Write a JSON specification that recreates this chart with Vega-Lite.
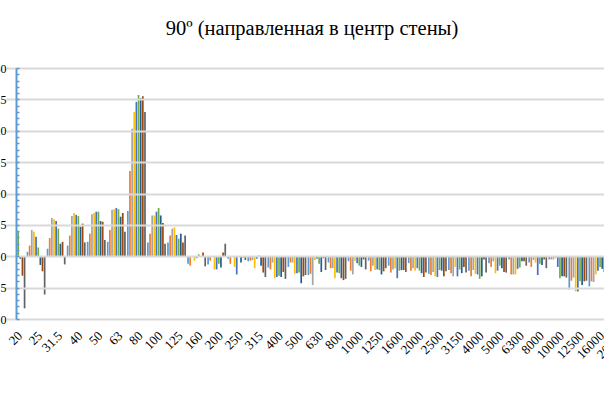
{
  "$schema": "https://vega.github.io/schema/vega-lite/v6.json",
  "autosize": {"type": "none"},
  "padding": {"left": 16, "top": 68, "right": 0, "bottom": 84},
  "width": 602,
  "height": 251,
  "background": "white",
  "title": {
    "text": "90º (направленная в центр стены)",
    "font": "Liberation Serif",
    "fontSize": 20.5,
    "fontWeight": "normal",
    "color": "#000000",
    "anchor": "middle",
    "dx": -5,
    "offset": 7,
    "baseline": "alphabetic"
  },
  "data": {
    "values": [
      {"f": "20", "s": 1, "v": 0}, {"f": "20", "s": 2, "v": 0}, {"f": "20", "s": 3, "v": 0}, {"f": "20", "s": 4, "v": 0}, {"f": "20", "s": 5, "v": 0}, {"f": "20", "s": 6, "v": 4.0}, {"f": "20", "s": 7, "v": -0.4}, {"f": "20", "s": 8, "v": -3.1}, {"f": "20", "s": 9, "v": -8.3},
      {"f": "25", "s": 1, "v": 0.7}, {"f": "25", "s": 2, "v": 1.7}, {"f": "25", "s": 3, "v": 4.2}, {"f": "25", "s": 4, "v": 3.9}, {"f": "25", "s": 5, "v": 3.1}, {"f": "25", "s": 6, "v": 1.4}, {"f": "25", "s": 7, "v": -1.4}, {"f": "25", "s": 8, "v": -2.4}, {"f": "25", "s": 9, "v": -6.1},
      {"f": "31.5", "s": 1, "v": 1.2}, {"f": "31.5", "s": 2, "v": 2.9}, {"f": "31.5", "s": 3, "v": 6.1}, {"f": "31.5", "s": 4, "v": 5.9}, {"f": "31.5", "s": 5, "v": 5.6}, {"f": "31.5", "s": 6, "v": 4.4}, {"f": "31.5", "s": 7, "v": 2.0}, {"f": "31.5", "s": 8, "v": 2.3}, {"f": "31.5", "s": 9, "v": -1.3},
      {"f": "40", "s": 1, "v": 1.7}, {"f": "40", "s": 2, "v": 3.3}, {"f": "40", "s": 3, "v": 6.4}, {"f": "40", "s": 4, "v": 6.9}, {"f": "40", "s": 5, "v": 6.6}, {"f": "40", "s": 6, "v": 6.4}, {"f": "40", "s": 7, "v": 4.7}, {"f": "40", "s": 8, "v": 5.2}, {"f": "40", "s": 9, "v": 2.2},
      {"f": "50", "s": 1, "v": 2.3}, {"f": "50", "s": 2, "v": 3.6}, {"f": "50", "s": 3, "v": 6.7}, {"f": "50", "s": 4, "v": 6.9}, {"f": "50", "s": 5, "v": 7.1}, {"f": "50", "s": 6, "v": 7.1}, {"f": "50", "s": 7, "v": 5.6}, {"f": "50", "s": 8, "v": 5.5}, {"f": "50", "s": 9, "v": 2.6},
      {"f": "63", "s": 1, "v": 2.3}, {"f": "63", "s": 2, "v": 4.2}, {"f": "63", "s": 3, "v": 7.4}, {"f": "63", "s": 4, "v": 7.5}, {"f": "63", "s": 5, "v": 7.7}, {"f": "63", "s": 6, "v": 7.5}, {"f": "63", "s": 7, "v": 6.3}, {"f": "63", "s": 8, "v": 6.9}, {"f": "63", "s": 9, "v": 3.9},
      {"f": "80", "s": 1, "v": 7.2}, {"f": "80", "s": 2, "v": 13.6}, {"f": "80", "s": 3, "v": 20.3}, {"f": "80", "s": 4, "v": 23.0}, {"f": "80", "s": 5, "v": 24.6}, {"f": "80", "s": 6, "v": 25.7}, {"f": "80", "s": 7, "v": 25.2}, {"f": "80", "s": 8, "v": 25.5}, {"f": "80", "s": 9, "v": 23.0},
      {"f": "100", "s": 1, "v": 2.2}, {"f": "100", "s": 2, "v": 3.6}, {"f": "100", "s": 3, "v": 6.5}, {"f": "100", "s": 4, "v": 6.5}, {"f": "100", "s": 5, "v": 7.1}, {"f": "100", "s": 6, "v": 7.7}, {"f": "100", "s": 7, "v": 6.5}, {"f": "100", "s": 8, "v": 5.3}, {"f": "100", "s": 9, "v": 2.0},
      {"f": "125", "s": 1, "v": 2.2}, {"f": "125", "s": 2, "v": 3.3}, {"f": "125", "s": 3, "v": 4.4}, {"f": "125", "s": 4, "v": 4.6}, {"f": "125", "s": 5, "v": 3.4}, {"f": "125", "s": 6, "v": 2.8}, {"f": "125", "s": 7, "v": 3.6}, {"f": "125", "s": 8, "v": 2.2}, {"f": "125", "s": 9, "v": 3.3},
      {"f": "160", "s": 1, "v": -1.2}, {"f": "160", "s": 2, "v": -1.5}, {"f": "160", "s": 3, "v": 0}, {"f": "160", "s": 4, "v": -0.7}, {"f": "160", "s": 5, "v": -0.3}, {"f": "160", "s": 6, "v": 0.3}, {"f": "160", "s": 7, "v": 0}, {"f": "160", "s": 8, "v": 0.6}, {"f": "160", "s": 9, "v": -1.6},
      {"f": "200", "s": 1, "v": -1.3}, {"f": "200", "s": 2, "v": -0.7}, {"f": "200", "s": 3, "v": 0}, {"f": "200", "s": 4, "v": -2.1}, {"f": "200", "s": 5, "v": -2.1}, {"f": "200", "s": 6, "v": -1.2}, {"f": "200", "s": 7, "v": -1.8}, {"f": "200", "s": 8, "v": 0.6}, {"f": "200", "s": 9, "v": 2.0},
      {"f": "250", "s": 1, "v": -0.4}, {"f": "250", "s": 2, "v": -1.2}, {"f": "250", "s": 3, "v": 0}, {"f": "250", "s": 4, "v": -1.7}, {"f": "250", "s": 5, "v": -2.9}, {"f": "250", "s": 6, "v": 0}, {"f": "250", "s": 7, "v": -1.0}, {"f": "250", "s": 8, "v": -0.2}, {"f": "250", "s": 9, "v": -0.6},
      {"f": "315", "s": 1, "v": -0.8}, {"f": "315", "s": 2, "v": -0.7}, {"f": "315", "s": 3, "v": -0.6}, {"f": "315", "s": 4, "v": -1.9}, {"f": "315", "s": 5, "v": -0.4}, {"f": "315", "s": 6, "v": 0.1}, {"f": "315", "s": 7, "v": -1.5}, {"f": "315", "s": 8, "v": -2.6}, {"f": "315", "s": 9, "v": -3.3},
      {"f": "400", "s": 1, "v": -1.8}, {"f": "400", "s": 2, "v": -2.1}, {"f": "400", "s": 3, "v": -1.0}, {"f": "400", "s": 4, "v": -3.5}, {"f": "400", "s": 5, "v": -3.3}, {"f": "400", "s": 6, "v": -3.1}, {"f": "400", "s": 7, "v": -3.3}, {"f": "400", "s": 8, "v": -2.5}, {"f": "400", "s": 9, "v": -3.6},
      {"f": "500", "s": 1, "v": -1.7}, {"f": "500", "s": 2, "v": -1.0}, {"f": "500", "s": 3, "v": -1.0}, {"f": "500", "s": 4, "v": -2.8}, {"f": "500", "s": 5, "v": -2.7}, {"f": "500", "s": 6, "v": -2.6}, {"f": "500", "s": 7, "v": -4.3}, {"f": "500", "s": 8, "v": -3.2}, {"f": "500", "s": 9, "v": -3.0},
      {"f": "630", "s": 1, "v": -3.0}, {"f": "630", "s": 2, "v": -2.8}, {"f": "630", "s": 3, "v": -4.6}, {"f": "630", "s": 4, "v": -0.6}, {"f": "630", "s": 5, "v": -0.4}, {"f": "630", "s": 6, "v": -1.2}, {"f": "630", "s": 7, "v": -2.5}, {"f": "630", "s": 8, "v": -0.3}, {"f": "630", "s": 9, "v": -2.2},
      {"f": "800", "s": 1, "v": -1.0}, {"f": "800", "s": 2, "v": -1.9}, {"f": "800", "s": 3, "v": -1.9}, {"f": "800", "s": 4, "v": -3.5}, {"f": "800", "s": 5, "v": -2.6}, {"f": "800", "s": 6, "v": -2.7}, {"f": "800", "s": 7, "v": -3.5}, {"f": "800", "s": 8, "v": -3.8}, {"f": "800", "s": 9, "v": -3.6},
      {"f": "1000", "s": 1, "v": -0.8}, {"f": "1000", "s": 2, "v": -2.3}, {"f": "1000", "s": 3, "v": -2.9}, {"f": "1000", "s": 4, "v": -0.7}, {"f": "1000", "s": 5, "v": -1.1}, {"f": "1000", "s": 6, "v": -1.5}, {"f": "1000", "s": 7, "v": -1.7}, {"f": "1000", "s": 8, "v": -0.5}, {"f": "1000", "s": 9, "v": -2.1},
      {"f": "1250", "s": 1, "v": -0.7}, {"f": "1250", "s": 2, "v": -2.4}, {"f": "1250", "s": 3, "v": -1.5}, {"f": "1250", "s": 4, "v": -2.2}, {"f": "1250", "s": 5, "v": -2.1}, {"f": "1250", "s": 6, "v": -2.2}, {"f": "1250", "s": 7, "v": -2.9}, {"f": "1250", "s": 8, "v": -2.4}, {"f": "1250", "s": 9, "v": -1.9},
      {"f": "1600", "s": 1, "v": -1.5}, {"f": "1600", "s": 2, "v": -2.6}, {"f": "1600", "s": 3, "v": -2.1}, {"f": "1600", "s": 4, "v": -1.9}, {"f": "1600", "s": 5, "v": -3.5}, {"f": "1600", "s": 6, "v": -2.3}, {"f": "1600", "s": 7, "v": -2.2}, {"f": "1600", "s": 8, "v": -2.2}, {"f": "1600", "s": 9, "v": -2.5},
      {"f": "2000", "s": 1, "v": -1.1}, {"f": "2000", "s": 2, "v": -2.3}, {"f": "2000", "s": 3, "v": -1.9}, {"f": "2000", "s": 4, "v": -2.3}, {"f": "2000", "s": 5, "v": -1.9}, {"f": "2000", "s": 6, "v": -2.3}, {"f": "2000", "s": 7, "v": -2.7}, {"f": "2000", "s": 8, "v": -3.3}, {"f": "2000", "s": 9, "v": -2.6},
      {"f": "2500", "s": 1, "v": -2.8}, {"f": "2500", "s": 2, "v": -3.0}, {"f": "2500", "s": 3, "v": -2.5}, {"f": "2500", "s": 4, "v": -3.2}, {"f": "2500", "s": 5, "v": -3.3}, {"f": "2500", "s": 6, "v": -2.2}, {"f": "2500", "s": 7, "v": -2.3}, {"f": "2500", "s": 8, "v": -3.2}, {"f": "2500", "s": 9, "v": -2.4},
      {"f": "3150", "s": 1, "v": -2.2}, {"f": "3150", "s": 2, "v": -2.7}, {"f": "3150", "s": 3, "v": -3.2}, {"f": "3150", "s": 4, "v": -1.7}, {"f": "3150", "s": 5, "v": -3.2}, {"f": "3150", "s": 6, "v": -2.1}, {"f": "3150", "s": 7, "v": -2.7}, {"f": "3150", "s": 8, "v": -1.7}, {"f": "3150", "s": 9, "v": -2.6},
      {"f": "4000", "s": 1, "v": -2.3}, {"f": "4000", "s": 2, "v": -3.2}, {"f": "4000", "s": 3, "v": -2.2}, {"f": "4000", "s": 4, "v": -2.8}, {"f": "4000", "s": 5, "v": -2.9}, {"f": "4000", "s": 6, "v": -3.6}, {"f": "4000", "s": 7, "v": -3.2}, {"f": "4000", "s": 8, "v": -0.5}, {"f": "4000", "s": 9, "v": -2.6},
      {"f": "5000", "s": 1, "v": -1.1}, {"f": "5000", "s": 2, "v": -1.7}, {"f": "5000", "s": 3, "v": -0.8}, {"f": "5000", "s": 4, "v": -2.7}, {"f": "5000", "s": 5, "v": -2.3}, {"f": "5000", "s": 6, "v": -1.5}, {"f": "5000", "s": 7, "v": -1.9}, {"f": "5000", "s": 8, "v": -2.5}, {"f": "5000", "s": 9, "v": -2.6},
      {"f": "6300", "s": 1, "v": -0.5}, {"f": "6300", "s": 2, "v": -2.9}, {"f": "6300", "s": 3, "v": -2.9}, {"f": "6300", "s": 4, "v": -2.9}, {"f": "6300", "s": 5, "v": -2.0}, {"f": "6300", "s": 6, "v": -1.8}, {"f": "6300", "s": 7, "v": -0.8}, {"f": "6300", "s": 8, "v": -0.8}, {"f": "6300", "s": 9, "v": -1.5},
      {"f": "8000", "s": 1, "v": -1.0}, {"f": "8000", "s": 2, "v": -1.7}, {"f": "8000", "s": 3, "v": -0.6}, {"f": "8000", "s": 4, "v": -1.0}, {"f": "8000", "s": 5, "v": -3.0}, {"f": "8000", "s": 6, "v": -1.2}, {"f": "8000", "s": 7, "v": -1.4}, {"f": "8000", "s": 8, "v": -0.5}, {"f": "8000", "s": 9, "v": -1.9},
      {"f": "10000", "s": 1, "v": -0.5}, {"f": "10000", "s": 2, "v": -0.5}, {"f": "10000", "s": 3, "v": -0.5}, {"f": "10000", "s": 4, "v": -0.3}, {"f": "10000", "s": 5, "v": -1.7}, {"f": "10000", "s": 6, "v": -3.5}, {"f": "10000", "s": 7, "v": -3.2}, {"f": "10000", "s": 8, "v": -3.2}, {"f": "10000", "s": 9, "v": -3.4},
      {"f": "12500", "s": 1, "v": -5.3}, {"f": "12500", "s": 2, "v": -3.9}, {"f": "12500", "s": 3, "v": -3.4}, {"f": "12500", "s": 4, "v": -5.6}, {"f": "12500", "s": 5, "v": -5.6}, {"f": "12500", "s": 6, "v": -4.0}, {"f": "12500", "s": 7, "v": -4.6}, {"f": "12500", "s": 8, "v": -4.0}, {"f": "12500", "s": 9, "v": -3.9},
      {"f": "16000", "s": 1, "v": -4.8}, {"f": "16000", "s": 2, "v": -4.0}, {"f": "16000", "s": 3, "v": -4.1}, {"f": "16000", "s": 4, "v": -2.9}, {"f": "16000", "s": 5, "v": -2.3}, {"f": "16000", "s": 6, "v": -1.7}, {"f": "16000", "s": 7, "v": -2.0}, {"f": "16000", "s": 8, "v": -2.5}, {"f": "16000", "s": 9, "v": -2.5},
      {"f": "20000", "s": 1, "v": -2.0}, {"f": "20000", "s": 2, "v": -2.0}, {"f": "20000", "s": 3, "v": -2.0}, {"f": "20000", "s": 4, "v": -2.0}, {"f": "20000", "s": 5, "v": -2.0}, {"f": "20000", "s": 6, "v": -2.0}, {"f": "20000", "s": 7, "v": -2.0}, {"f": "20000", "s": 8, "v": -2.0}, {"f": "20000", "s": 9, "v": -2.0}
    ]
  },
  "mark": {"type": "bar", "clip": true},
  "encoding": {
    "x": {
      "field": "f",
      "type": "nominal",
      "sort": null,
      "scale": {"range": [-10.03, 612.03], "paddingInner": 0.06, "paddingOuter": 0.03},
      "axis": {
        "title": null,
        "labelAngle": -45,
        "labelFont": "Liberation Serif",
        "labelFontSize": 13,
        "labelColor": "#000000",
        "ticks": false,
        "domain": false,
        "labelPadding": 10
      }
    },
    "xOffset": {"field": "s", "type": "nominal", "scale": {"paddingInner": 0.2}},
    "y": {
      "field": "v",
      "type": "quantitative",
      "scale": {"domain": [-10, 30], "nice": false},
      "axis": {
        "title": null,
        "values": [-10, -9, -8, -7, -6, -5, -4, -3, -2, -1, 0, 1, 2, 3, 4, 5, 6, 7, 8, 9, 10, 11, 12, 13, 14, 15, 16, 17, 18, 19, 20, 21, 22, 23, 24, 25, 26, 27, 28, 29, 30],
        "labelExpr": "datum.value % 5 === 0 ? datum.label : ''",
        "labelOverlap": false,
        "gridOpacity": {"condition": {"test": "datum.value % 5 === 0", "value": 1}, "value": 0},
        "gridColor": "#D9D9D9",
        "gridWidth": 2,
        "domainColor": "#5B9BD5",
        "domainWidth": 2,
        "tickColor": "#5B9BD5",
        "tickSize": -3,
        "tickWidth": 1.5,
        "labelPadding": 13,
        "labelFont": "Liberation Serif",
        "labelFontSize": 12,
        "labelColor": "#000000",
        "zindex": 1
      }
    },
    "color": {
      "field": "s",
      "type": "nominal",
      "scale": {
        "domain": [1, 2, 3, 4, 5, 6, 7, 8, 9],
        "range": ["#5B9BD5", "#ED7D31", "#A5A5A5", "#FFC000", "#4472C4", "#70AD47", "#255E91", "#9E480E", "#636363"]
      },
      "legend": null
    }
  },
  "config": {"view": {"stroke": null}, "font": "Liberation Serif"}
}
